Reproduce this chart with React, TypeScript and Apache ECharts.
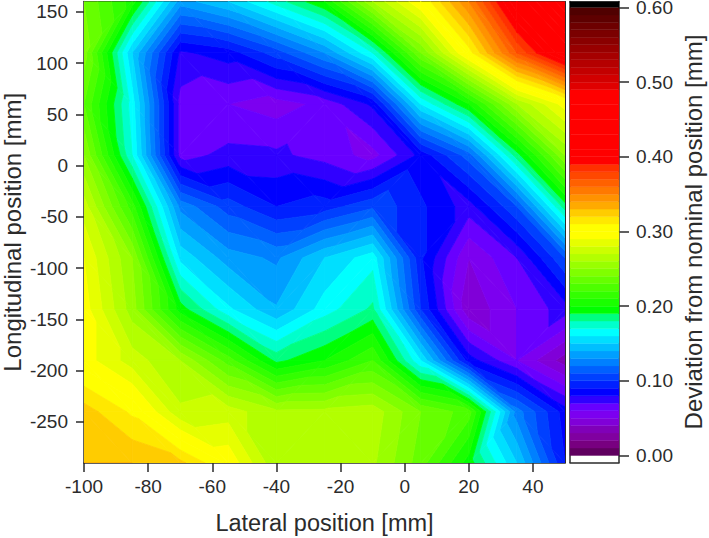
import React, { useEffect, useRef } from "react";
import * as echarts from "echarts";

const lateral = [-100, -85, -70, -55, -40, -25, -10, 5, 20, 35, 50];
const longitudinal = [160, 110, 60, 10, -40, -90, -140, -190, -240, -290];
const rowP160 = [0.24, 0.205, 0.135, 0.15, 0.175, 0.2, 0.26, 0.3, 0.35, 0.42, 0.47];
const rowP110 = [0.245, 0.15, 0.078, 0.085, 0.105, 0.13, 0.17, 0.24, 0.305, 0.37, 0.42];
const rowP60 = [0.23, 0.165, 0.066, 0.06, 0.055, 0.063, 0.082, 0.16, 0.2, 0.26, 0.295];
const rowP10 = [0.25, 0.17, 0.066, 0.073, 0.072, 0.066, 0.056, 0.083, 0.115, 0.185, 0.25];
const rowM40 = [0.275, 0.215, 0.127, 0.105, 0.09, 0.095, 0.108, 0.092, 0.075, 0.11, 0.185];
const rowM90 = [0.29, 0.25, 0.157, 0.135, 0.128, 0.15, 0.166, 0.092, 0.05, 0.07, 0.11];
const rowM140 = [0.295, 0.255, 0.195, 0.162, 0.141, 0.165, 0.182, 0.1, 0.042, 0.06, 0.075];
const rowM190 = [0.295, 0.275, 0.26, 0.225, 0.187, 0.2, 0.22, 0.16, 0.085, 0.06, 0.035];
const rowM240 = [0.325, 0.308, 0.272, 0.275, 0.262, 0.263, 0.266, 0.24, 0.225, 0.125, 0.085];
const rowM290 = [0.33, 0.33, 0.323, 0.298, 0.262, 0.264, 0.262, 0.235, 0.195, 0.15, 0.09];
const deviation = [rowP160, rowP110, rowP60, rowP10, rowM40, rowM90, rowM140, rowM190, rowM240, rowM290];

const colorStops: [number, string][] = [
  [0, "#600060"], [0.01, "#780080"], [0.02, "#8000a0"], [0.03, "#8000b8"], [0.04, "#8000d8"],
  [0.05, "#7c00f0"], [0.06, "#6800ff"], [0.07, "#3000ff"], [0.08, "#0000ff"],
  [0.16, "#00ffff"], [0.17, "#00ffcc"], [0.18, "#00ff80"], [0.19, "#00ff00"], [0.29, "#ffff00"],
  [0.3, "#ffff00"], [0.31, "#ffe800"], [0.32, "#ffcc00"], [0.33, "#ffaa00"],
  [0.38, "#ff3000"], [0.39, "#ff0000"], [0.48, "#ff0000"], [0.49, "#e00000"], [0.59, "#500000"],
];
const xMajor = [-100, -80, -60, -40, -20, 0, 20, 40];
const xMinor = [-90, -70, -50, -30, -10, 10, 30, 50];
const yMajor = [-250, -200, -150, -100, -50, 0, 50, 100, 150];
const yMinor = [-275, -225, -175, -125, -75, -25, 25, 75, 125];
const barTicks = [0, 0.1, 0.2, 0.3, 0.4, 0.5, 0.6];
const xTitle = "Lateral position [mm]";
const yTitle = "Longitudinal position [mm]";
const barTitle = "Deviation from nominal position [mm]";

const BAND = 0.01;
const BANDS = 60;
const INK = "#2b2b2b";
const FONT = "Liberation Sans";

function hex(c: string) {
  return [1, 3, 5].map((i) => parseInt(c.slice(i, i + 2), 16));
}
function colorFor(value: number) {
  const v = value + 1e-9;
  let i = 0;
  while (i < colorStops.length - 2 && v >= colorStops[i + 1][0]) i++;
  const [a, ca] = colorStops[i];
  const [b, cb] = colorStops[i + 1];
  const t = Math.min(1, Math.max(0, (v - a) / (b - a)));
  const A = hex(ca), B = hex(cb);
  return `rgb(${A.map((x, k) => Math.round(x + (B[k] - x) * t)).join(",")})`;
}

type P = [number, number, number];
function clip(poly: P[], level: number, keepAbove: boolean): P[] {
  const out: P[] = [];
  const inside = (p: P) => (keepAbove ? p[2] >= level : p[2] <= level);
  for (let i = 0; i < poly.length; i++) {
    const a = poly[i], b = poly[(i + 1) % poly.length];
    if (inside(a)) out.push(a);
    if (inside(a) !== inside(b)) {
      const t = (level - a[2]) / (b[2] - a[2]);
      out.push([a[0] + (b[0] - a[0]) * t, a[1] + (b[1] - a[1]) * t, level]);
    }
  }
  return out;
}

function contourPolygons() {
  const tris: P[][] = [];
  for (let r = 0; r < longitudinal.length - 1; r++) {
    for (let c = 0; c < lateral.length - 1; c++) {
      const v = (rr: number, cc: number): P => [lateral[cc], longitudinal[rr], deviation[rr][cc]];
      const a = v(r, c), b = v(r, c + 1), d = v(r + 1, c), e = v(r + 1, c + 1);
      if (Math.abs(a[2] - e[2]) <= Math.abs(b[2] - d[2])) {
        tris.push([a, b, e], [a, e, d]);
      } else {
        tris.push([a, b, d], [b, e, d]);
      }
    }
  }
  const polys: { pts: P[]; fill: string }[] = [];
  for (let k = 0; k < BANDS; k++) {
    const lo = k * BAND, hi = (k + 1) * BAND;
    const fill = colorFor(lo);
    for (const t of tris) {
      const p = clip(clip(t, lo, true), hi, false);
      if (p.length >= 3) polys.push({ pts: p, fill });
    }
  }
  return polys;
}

export default function App() {
  const ref = useRef<HTMLDivElement>(null);
  useEffect(() => {
    const chart = echarts.init(ref.current!, undefined, { renderer: "svg" });
    const polys = contourPolygons();
    const barCells = Array.from({ length: BANDS }, (_, k) => k);
    const line = { show: true, onZero: false, lineStyle: { color: INK, width: 1.5 } };
    const label = { color: INK, fontFamily: FONT, fontSize: 19 };
    const xBase = { type: "value", gridIndex: 0, min: -100, max: 50, splitLine: { show: false } };
    const yBase = { type: "value", gridIndex: 0, min: -290, max: 160, splitLine: { show: false } };
    const bxBase = { type: "value", gridIndex: 1, min: 0, max: 1, splitLine: { show: false }, axisLabel: { show: false }, axisTick: { show: false } };
    const byMin = -0.0094, byMax = 0.608;
    chart.setOption({
      animation: false,
      backgroundColor: "#fff",
      textStyle: { fontFamily: FONT },
      grid: [
        { left: 84, top: 1.5, width: 481, height: 461.5, outerBoundsMode: "none" },
        { left: 570, top: 1.5, width: 49, height: 461, outerBoundsMode: "none" },
      ],
      xAxis: [
        { ...xBase, position: "bottom", axisLine: line,
          axisTick: { show: true, length: 9, customValues: xMajor, lineStyle: { color: INK, width: 1.5 } },
          axisLabel: { ...label, margin: 14, customValues: xMajor, formatter: (v: number) => String(v) },
          name: xTitle, nameLocation: "middle", nameGap: 48,
          nameTextStyle: { color: INK, fontFamily: FONT, fontSize: 23.5 } },
        { ...xBase, position: "bottom", axisLine: { show: false },
          axisTick: { show: true, length: 5, customValues: xMinor, lineStyle: { color: INK, width: 1.5 } },
          axisLabel: { show: false } },
        { ...xBase, position: "top", axisLine: { ...line, lineStyle: { color: INK, width: 1 } }, axisTick: { show: false }, axisLabel: { show: false } },
        { ...bxBase, position: "bottom", axisLine: line },
        { ...bxBase, position: "top", axisLine: line },
      ],
      yAxis: [
        { ...yBase, position: "left", axisLine: line,
          axisTick: { show: true, length: 8, customValues: yMajor, lineStyle: { color: INK, width: 1.5 } },
          axisLabel: { ...label, margin: 16, customValues: yMajor, formatter: (v: number) => String(v) },
          name: yTitle, nameLocation: "middle", nameGap: 60, nameMoveOverlap: false,
          nameTextStyle: { color: INK, fontFamily: FONT, fontSize: 24 } },
        { ...yBase, position: "left", axisLine: { show: false },
          axisTick: { show: true, length: 4, customValues: yMinor, lineStyle: { color: INK, width: 1.5 } },
          axisLabel: { show: false } },
        { ...yBase, position: "right", axisLine: { ...line, lineStyle: { color: INK, width: 1 } }, axisTick: { show: false }, axisLabel: { show: false } },
        { type: "value", gridIndex: 1, min: byMin, max: byMax, position: "right", splitLine: { show: false }, axisLine: line,
          axisTick: { show: true, length: 10, customValues: barTicks, lineStyle: { color: INK, width: 1.5 } },
          axisLabel: { ...label, margin: 17, customValues: barTicks, formatter: (v: number) => v.toFixed(2) } },
        { type: "value", gridIndex: 1, min: byMin, max: byMax, position: "left", splitLine: { show: false }, axisLine: line, axisTick: { show: false }, axisLabel: { show: false } },
      ],
      series: [
        {
          type: "custom", xAxisIndex: 0, yAxisIndex: 0, coordinateSystem: "cartesian2d", progressive: 0, clip: true, silent: true,
          data: polys.map((p, i) => [p.pts[0][0], p.pts[0][1], i]),
          encode: { x: 0, y: 1 },
          renderItem: (params: any, api: any) => {
            const p = polys[params.dataIndex];
            return {
              type: "polygon",
              shape: { points: p.pts.map((q) => api.coord([q[0], q[1]])) },
              style: { fill: p.fill, stroke: p.fill, lineWidth: 0.8 },
            };
          },
        },
        {
          type: "custom", xAxisIndex: 3, yAxisIndex: 3, coordinateSystem: "cartesian2d", progressive: 0, silent: true,
          data: barCells.map((k) => [0, k * BAND, k]),
          encode: { x: 0, y: 1 },
          renderItem: (params: any, api: any) => {
            const k = params.dataIndex;
            const a = api.coord([0, k * BAND]);
            const b = api.coord([1, (k + 1) * BAND]);
            const fill = colorFor(k * BAND);
            return { type: "rect", shape: { x: a[0], y: b[1], width: b[0] - a[0], height: a[1] - b[1] }, style: { fill, stroke: fill, lineWidth: 0.4 } };
          },
        },
        {
          type: "custom", xAxisIndex: 3, yAxisIndex: 3, coordinateSystem: "cartesian2d", silent: true,
          data: [[0, BANDS * BAND]],
          encode: { x: 0, y: 1 },
          renderItem: (_p: any, api: any) => {
            const a = api.coord([0, BANDS * BAND]);
            const b = api.coord([1, byMax]);
            return { type: "rect", shape: { x: a[0], y: b[1], width: b[0] - a[0], height: a[1] - b[1] }, style: { fill: "#000" } };
          },
        },
      ],
      graphic: [
        { type: "text", x: 693, y: 232, rotation: Math.PI / 2, style: { text: barTitle, fill: INK, font: `24px "${FONT}"`, align: "center", verticalAlign: "middle" } },
      ],
    });
    return () => chart.dispose();
  }, []);
  return <div ref={ref} style={{ position: "fixed", left: 0, top: 0, width: 709, height: 538 }} />;
}
